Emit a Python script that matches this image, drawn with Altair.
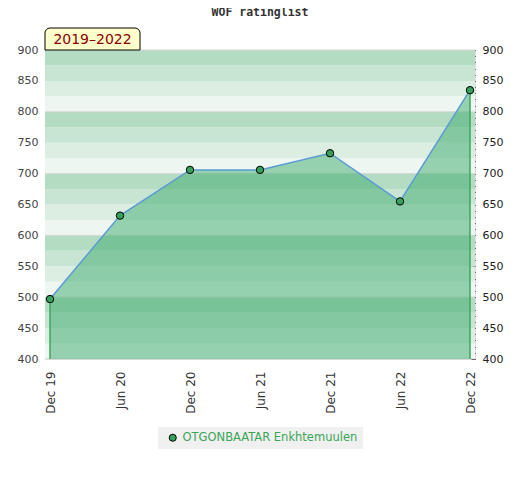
import altair as alt
import pandas as pd

# ---- data ----
dates = ["Dec 19", "Jun 20", "Dec 20", "Jun 21", "Dec 21", "Jun 22", "Dec 22"]
ratings = [497, 632, 706, 706, 733, 655, 835]
player = "OTGONBAATAR Enkhtemuulen"
period_label = "2019\u20132022"
chart_title = "WOF ratinglist"

# background stripes (25-point bands, shade 0 = darkest at top of each 100 block)
band_starts = [400, 425, 450, 475, 500, 525, 550, 575, 600, 625,
               650, 675, 700, 725, 750, 775, 800, 825, 850, 875]
band_shades = [3, 2, 1, 0, 3, 2, 1, 0, 3, 2, 1, 0, 3, 2, 1, 0, 3, 2, 1, 0]
grid_values = [400, 500, 600, 700, 800, 900]
left_ticks = [400, 450, 500, 550, 600, 650, 700, 750, 800, 850, 900]
right_ticks = list(range(400, 901, 10))

W, H = 430, 309
Y_DOM = [400, 900]

df = pd.DataFrame({"date": dates, "rating": ratings, "player": [player] * len(dates)})
bands = pd.DataFrame({"start": band_starts, "end": [b + 25 for b in band_starts], "shade": band_shades})
grid = pd.DataFrame({"v": grid_values})
lab = pd.DataFrame({"label": [period_label], "title": [chart_title]})

yscale = alt.Scale(domain=Y_DOM, nice=False, zero=False)
xscale = alt.Scale(type="point", padding=5 / 70)
xaxis = alt.Axis(labelAngle=-90, ticks=False, domain=False, labelPadding=12,
                 labelColor="#333", labelFontSize=12, labelFont="DejaVu Sans", grid=False)
xenc = alt.X("date:N", sort=dates, scale=xscale, title=None, axis=xaxis)

band_layer = alt.Chart(bands).mark_rect().encode(
    x=alt.value(0), x2=alt.value(W),
    y=alt.Y("start:Q", scale=yscale, axis=None), y2="end:Q",
    color=alt.Color("shade:O", scale=alt.Scale(domain=[0, 1, 2, 3],
                    range=["#b3dcc2", "#c8e5d3", "#dcede2", "#eef6f1"]), legend=None),
)

grid_layer = alt.Chart(grid).mark_rule(color="#d6d6d6", strokeWidth=1).encode(
    x=alt.value(0), x2=alt.value(W),
    y=alt.Y("v:Q", scale=yscale, axis=None),
)

area_layer = alt.Chart(df).mark_area(color="#3dab6e", opacity=0.5).encode(
    x=xenc,
    y=alt.Y("rating:Q", scale=yscale, title=None,
            axis=alt.Axis(values=left_ticks, ticks=False, domain=False, labelPadding=7, grid=False,
                          labelColor="#444", labelFontSize=11, labelFont="DejaVu Sans")),
    y2=alt.datum(400),
)

edge_layer = alt.Chart(df).mark_rule(color="#3aa65c", strokeWidth=1.5).encode(
    x=xenc,
    y=alt.Y("rating:Q", scale=yscale, axis=None),
    y2=alt.datum(400),
).transform_filter(alt.FieldOneOfPredicate(field="date", oneOf=[dates[0], dates[-1]]))

line_layer = alt.Chart(df).mark_line(color="#5b9bd5", strokeWidth=1.5).encode(
    x=xenc,
    y=alt.Y("rating:Q", scale=yscale, title=None,
            axis=alt.Axis(orient="right", values=right_ticks, offset=-4, tickSize=4, tickColor="#000",
                          tickWidth=1, domain=False, labelPadding=7, grid=False,
                          labelExpr="datum.value % 50 == 0 ? datum.label : ''",
                          labelOverlap=False, labelFlush=False,
                          labelColor="#222", labelFontSize=11, labelFont="DejaVu Sans")),
)

point_layer = alt.Chart(df).mark_circle(size=55, stroke="black", strokeWidth=1, opacity=1).encode(
    x=xenc,
    y=alt.Y("rating:Q", scale=yscale, axis=None),
    fill=alt.Fill("player:N", scale=alt.Scale(range=["#36a15c"]),
                  legend=alt.Legend(title=None, orient="none", legendX=113, legendY=377,
                                    fillColor="#f0f0f0", padding=5, symbolType="circle",
                                    symbolSize=50, symbolStrokeColor="black", symbolStrokeWidth=1,
                                    labelColor="#3aa657", labelFontSize=11.5, labelLimit=400,
                                    labelFont="DejaVu Sans", symbolOffset=4)),
)

box_layer = alt.Chart(lab).mark_rect(fill="#ffffcc", stroke="black", strokeWidth=1,
                                     cornerRadiusTopLeft=5, cornerRadiusTopRight=5).encode(
    x=alt.value(0), x2=alt.value(95), y=alt.value(-22), y2=alt.value(0),
)
text_layer = alt.Chart(lab).mark_text(color="#8b0000", fontSize=14, font="DejaVu Sans",
                                      align="center", baseline="middle").encode(
    x=alt.value(47.5), y=alt.value(-10.5), text="label:N",
)
title_layer = alt.Chart(lab).mark_text(color="#333", fontSize=11.5, font="DejaVu Sans Mono",
                                       fontWeight="bold", align="center", baseline="middle").encode(
    x=alt.value(W / 2), y=alt.value(-37), text="title:N",
)

chart = alt.layer(
    band_layer, grid_layer, area_layer, edge_layer, line_layer, point_layer,
    box_layer, text_layer, title_layer
).resolve_scale(
    y="independent", color="independent", fill="independent"
).properties(
    width=W, height=H,
    autosize=alt.AutoSizeParams(type="none"),
    padding={"left": 37, "top": 42, "right": 37, "bottom": 113},
).configure_view(stroke="#d8d8d8", strokeWidth=1).configure(background="white")

chart.save("out.html", embed_options={"renderer": "svg", "actions": False})
